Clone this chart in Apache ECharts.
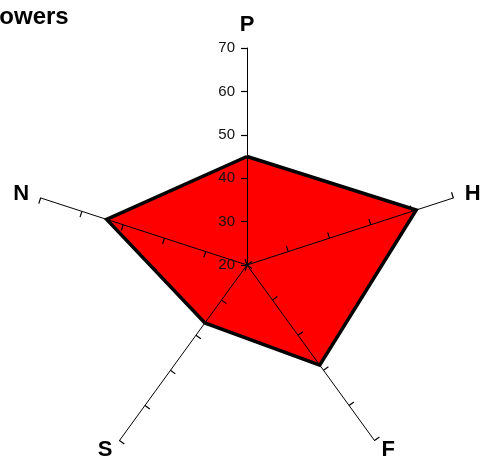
<!DOCTYPE html>
<html>
<head>
<meta charset="utf-8">
<script src="https://cdn.jsdelivr.net/npm/echarts@6/dist/echarts.min.js"></script>
<style>
  html, body { margin: 0; padding: 0; background: #fff; }
  #chart { width: 481px; height: 456px; }
</style>
</head>
<body>
<div id="chart"></div>
<script>
// radar goes counter-clockwise from the top, so list P, N, S, F, H
const axes = ['P', 'N', 'S', 'F', 'H']
const values = [45, 54, 36.5, 48.5, 61]
const scaleMin = 20
const scaleMax = 70
const scaleStep = 10

const font = 'Liberation Sans, Arial, sans-serif'
const cx = 247
const cy = 265
const r = 217

const chart = echarts.init(document.getElementById('chart'))
const option = {
  animation: false,
  title: {
    text: 'Flowers',
    left: -27,
    top: 0,
    textStyle: { fontFamily: font, fontSize: 24, fontWeight: 'bold', color: '#000' }
  },
  // cartesian axis only used to print the scale along P
  grid: { left: cx, top: cy - r, width: 1, height: r, z: 10 },
  xAxis: { type: 'value', show: false },
  yAxis: {
    type: 'value',
    z: 10,
    min: scaleMin,
    max: scaleMax,
    interval: scaleStep,
    axisLine: { show: false },
    axisTick: { show: false },
    splitLine: { show: false },
    axisLabel: { margin: 12, fontSize: 15, color: '#111', fontFamily: font }
  },
  radar: {
    z: 10,
    center: [cx, cy],
    radius: r,
    startAngle: 90,
    shape: 'polygon',
    splitNumber: 5,
    indicator: axes.map(n => ({ name: n, min: scaleMin, max: scaleMax })),
    axisName: { color: '#000', fontSize: 22, fontWeight: 'bold', fontFamily: font },
    nameGap: 12,
    axisLine: { lineStyle: { color: '#000', width: 1 } },
    axisTick: { show: true, length: 6, lineStyle: { color: '#000', width: 1.2 } },
    splitLine: { show: false },
    splitArea: { show: false },
    axisLabel: { show: false }
  },
  series: [
    {
      // fill
      type: 'radar',
      symbol: 'none',
      z: 1,
      lineStyle: { width: 0, opacity: 0 },
      areaStyle: { color: '#ff0000', opacity: 1 },
      data: [{ value: values }]
    },
    {
      // outline on top of the fill
      type: 'radar',
      symbol: 'none',
      z: 2,
      lineStyle: { color: '#000', width: 3.5, join: 'miter' },
      data: [{ value: values }]
    }
  ]
}
chart.setOption(option)
</script>
</body>
</html>
